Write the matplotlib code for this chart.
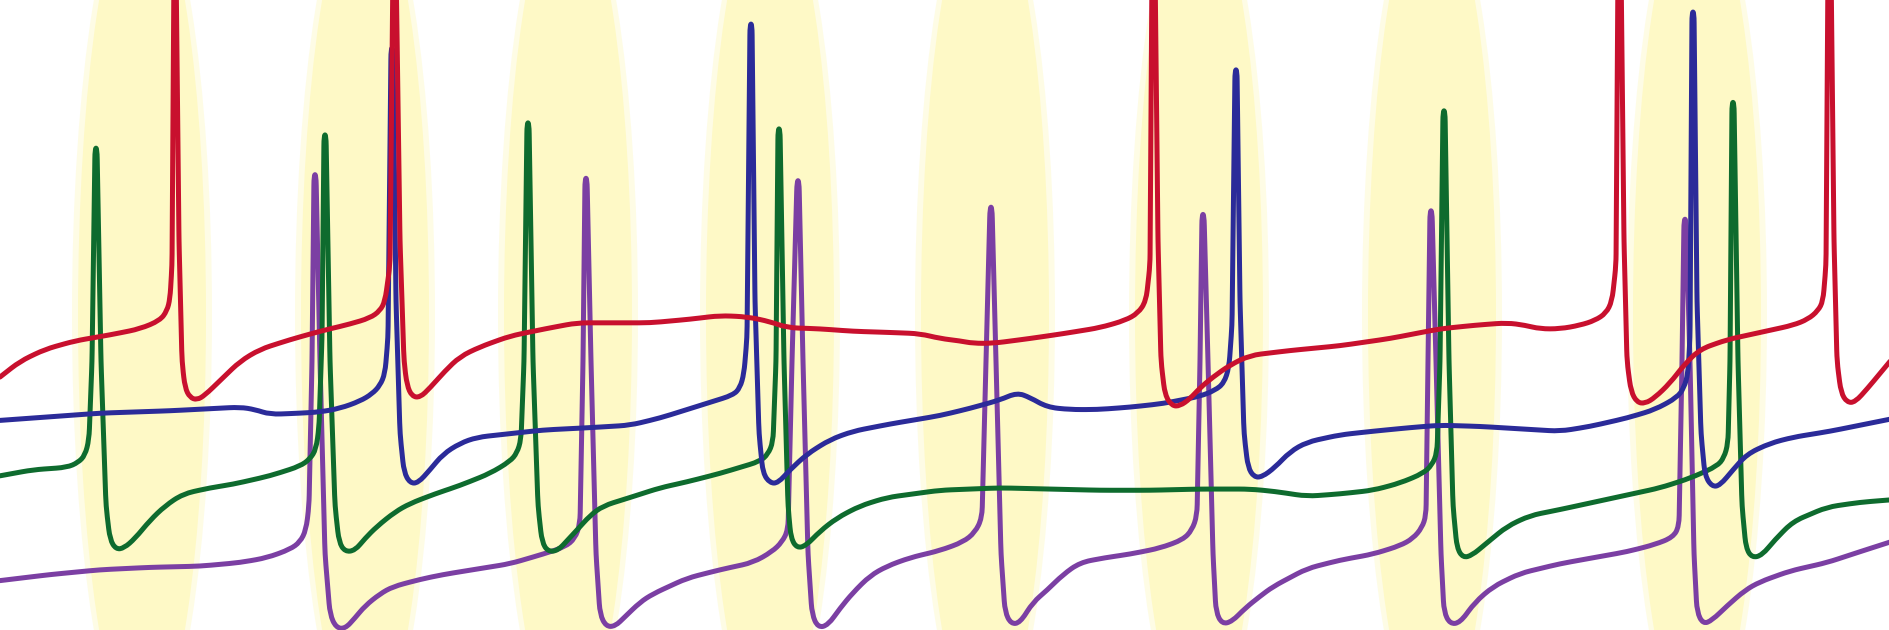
import matplotlib
matplotlib.use("Agg")
import math
import matplotlib.pyplot as plt
from matplotlib.patches import Ellipse, PathPatch
from matplotlib.path import Path

# ---- data (x in px of the 1890-wide canvas, y measured downward, 0..523) ----
band_x = [142, 365, 568, 770, 985, 1199, 1432, 1697]

red_x = [0, 20, 45, 75, 110, 140, 160, 167, 170, 172, 174, 176, 179, 182, 185, 190, 197, 205, 220, 240, 260, 290, 320,
         350, 370, 380, 385, 390, 393, 396, 400, 404, 407, 412, 420, 430, 445, 460, 480, 510, 545, 577, 610, 650, 690,
         720, 747, 770, 787, 820, 853, 890, 920, 940, 960, 973, 993, 1030, 1063, 1100, 1125, 1138, 1146, 1150, 1152,
         1155, 1158, 1161, 1165, 1172, 1180, 1190, 1200, 1213, 1230, 1250, 1290, 1340, 1390, 1440, 1475, 1507, 1525,
         1540, 1560, 1580, 1595, 1606, 1612, 1616, 1618, 1621, 1624, 1627, 1631, 1637, 1645, 1655, 1670, 1685, 1700,
         1727, 1760, 1793, 1808, 1818, 1823, 1826, 1828, 1831, 1834, 1837, 1841, 1847, 1855, 1868, 1880, 1890]
red_y = [313, 300, 290, 283, 278, 273, 266, 258, 248, 220, -30, -30, 200, 300, 322, 330, 332, 328, 316, 300, 290, 282, 275,
         269, 264, 258, 250, 220, -30, -30, 200, 300, 320, 329, 330, 322, 308, 296, 288, 279, 273, 268, 268, 268, 265,
         262, 263, 267, 272, 273, 275, 276, 277, 281, 283, 285, 285, 281, 277, 272, 266, 260, 250, 220, -30,
         -30, 200, 300, 328, 337, 337, 331, 322, 313, 303, 295, 291, 287, 281, 273, 270, 268, 270,
         273, 273, 270, 266, 260, 250, 220, -30, -30, 200, 300, 325, 334, 335, 330, 318, 302, 290,
         282, 276, 270, 265, 258, 250, 220, -30, -30, 200, 300, 326, 334, 334, 322, 310, 300]

blue_x = [0, 50, 100, 170, 240, 255, 270, 300, 320, 340, 360, 372, 380, 385, 388, 391, 393, 396, 400, 404, 410, 418, 430,
          443, 460, 477, 510, 543, 590, 630, 660, 687, 710, 733, 740, 744, 747, 750, 752, 755, 759, 763, 770, 778, 790,
          807, 830, 853, 890, 940, 970, 1000, 1017, 1030, 1047, 1070, 1097, 1130, 1163, 1200, 1215, 1224, 1229, 1232,
          1235, 1237, 1240, 1244, 1248, 1254, 1262, 1275, 1290, 1307, 1340, 1373, 1410, 1440, 1480, 1520, 1560, 1590,
          1627, 1655, 1677, 1684, 1688, 1690, 1692, 1694, 1697, 1701, 1705, 1712, 1720, 1733, 1747, 1770, 1793, 1830,
          1860, 1890]
blue_y = [349, 346, 343, 341, 338, 340, 344, 343, 342, 339, 333, 327, 320, 310, 280, 40, 40, 250, 360, 392, 401, 401, 390,
          377, 368, 363, 360, 357, 355, 353, 347, 340, 334, 328, 322, 310, 280, 20, 20, 250, 360, 393, 401, 401, 390,
          377, 365, 358, 352, 345, 339, 332, 326, 330, 338, 340, 340, 338, 335, 329, 324, 318, 305, 270,
          58, 58, 250, 360, 388, 396, 396, 388, 375, 367, 361, 358, 355, 353, 354, 356, 358, 354,
          347, 340, 330, 322, 310, 280, 10, 10, 250, 360, 395, 404, 403, 390, 377, 368, 363, 358,
          353, 348]

green_x = [0, 33, 67, 78, 85, 89, 92, 95, 97, 101, 106, 110, 116, 124, 135, 150, 165, 183, 210, 233, 270, 300, 310, 316,
           319, 322, 324, 326, 330, 335, 339, 345, 355, 365, 377, 395, 410, 435, 460, 490, 510, 517, 521, 524, 527, 529,
           533, 538, 542, 548, 558, 568, 577, 590, 603, 630, 660, 687, 720, 760, 768, 773, 776, 778, 780, 784, 788, 791,
           797, 806, 820, 837, 860, 887, 940, 1000, 1050, 1100, 1150, 1200, 1250, 1275, 1307, 1340, 1373, 1400, 1423,
           1432, 1437, 1440, 1443, 1445, 1449, 1453, 1457, 1463, 1472, 1485, 1507, 1530, 1560, 1610, 1660, 1690, 1717,
           1724, 1728, 1730, 1732, 1734, 1738, 1742, 1746, 1752, 1762, 1775, 1793, 1827, 1860, 1890]
green_y = [395, 390, 388, 384, 378, 365, 300, 123, 123, 300, 420, 448, 456, 455, 447, 432, 420, 410, 405, 402, 395, 387, 381, 373,
           355, 280, 112, 112, 300, 420, 450, 458, 457, 447, 437, 425, 418, 410, 403, 393, 383, 376, 365, 300, 102, 102,
           300, 420, 450, 458, 457, 448, 440, 428, 420, 413, 405, 400, 393, 383, 377, 367, 300, 107, 107, 300, 420, 447,
           455, 453, 441, 430, 420, 413, 407, 405, 406, 407, 407, 406, 406, 408, 412, 410, 407, 401, 393,
           386, 376, 300, 92, 92, 300, 420, 455, 463, 461, 452, 437, 428, 423, 414, 405, 397, 387,
           380, 368, 300, 85, 85, 300, 420, 455, 463, 461, 448, 433, 421, 417, 415]

purple_x = [0, 50, 100, 150, 200, 240, 267, 290, 300, 306, 309, 312, 314, 316, 320, 325, 330, 336, 345, 355, 365, 380, 393,
            420, 443, 480, 510, 543, 565, 575, 580, 583, 585, 587, 591, 596, 600, 606, 615, 625, 640, 653, 687, 720, 753,
            772, 782, 788, 792, 797, 799, 803, 808, 812, 818, 828, 840, 853, 870, 887, 910, 940, 963, 975, 982, 986, 990,
            992, 996, 1001, 1005, 1011, 1020, 1033, 1047, 1063, 1080, 1105, 1130, 1160, 1183, 1192, 1197, 1200, 1202,
            1204, 1208, 1213, 1216, 1222, 1232, 1245, 1260, 1273, 1307, 1340, 1373, 1400, 1413, 1422, 1426, 1428, 1430,
            1432, 1436, 1441, 1444, 1450, 1460, 1475, 1493, 1520, 1560, 1600, 1627, 1655, 1673, 1679, 1682, 1684, 1686,
            1690, 1694, 1697, 1703, 1712, 1727, 1745, 1760, 1790, 1827, 1860, 1890]
purple_y = [482, 477, 473, 471, 470, 467, 463, 456, 450, 440, 420, 300, 145, 145, 300, 460, 510, 521, 522, 513, 503, 493, 487,
            481, 477, 472, 468, 460, 454, 447, 435, 300, 148, 148, 300, 460, 510, 520, 520, 512, 500, 493, 480, 473, 467,
            458, 450, 440, 300, 150, 150, 300, 460, 510, 521, 519, 505, 492, 478, 470, 463, 457, 450, 442, 430, 300, 172,
            172, 300, 460, 508, 518, 517, 500, 490, 477, 467, 463, 460, 455, 448, 440, 428, 300, 178,
            178, 300, 460, 508, 518, 516, 505, 495, 487, 472, 465, 460, 453, 447, 438, 428, 300, 175,
            175, 300, 460, 508, 518, 517, 500, 487, 476, 468, 462, 458, 452, 446, 437, 300, 182, 182,
            300, 460, 508, 518, 515, 503, 490, 483, 474, 467, 458, 450]


def rounded_path(xs, ys, r=11.0, yscale=1.205):
    """Path through the read points whose corners are rounded with quadratic curves."""
    pts = list(zip(xs, ys))
    verts = [pts[0]]
    codes = [Path.MOVETO]
    for i in range(1, len(pts) - 1):
        (x0, y0), (x1, y1), (x2, y2) = pts[i - 1], pts[i], pts[i + 1]
        d1 = math.hypot(x1 - x0, (y1 - y0) * yscale)
        d2 = math.hypot(x2 - x1, (y2 - y1) * yscale)
        c1 = min(r, 0.5 * d1) / d1
        c2 = min(r, 0.5 * d2) / d2
        a = (x1 + (x0 - x1) * c1, y1 + (y0 - y1) * c1)
        b = (x1 + (x2 - x1) * c2, y1 + (y2 - y1) * c2)
        verts += [a, (x1, y1), b]
        codes += [Path.LINETO, Path.CURVE3, Path.CURVE3]
    verts.append(pts[-1])
    codes.append(Path.LINETO)
    return Path(verts, codes)


# ---- figure ----
fig = plt.figure(figsize=(18.9, 6.3), dpi=100)
ax = fig.add_axes([0, 0, 1, 1])
ax.set_xlim(0, 1890)
ax.set_ylim(523, 0)
ax.axis("off")

band_color = "#FEF9C6"
for cx in band_x:
    ax.add_patch(Ellipse((cx, 261.5), 140, 720, facecolor=band_color, edgecolor="none", alpha=0.45, zorder=0))
    ax.add_patch(Ellipse((cx, 261.5), 128, 704, facecolor=band_color, edgecolor="none", zorder=1))

lw = 3.6
traces = [(purple_x, purple_y, "#7B3FA3"),
          (green_x, green_y, "#0E6B2E"),
          (blue_x, blue_y, "#2B2B99"),
          (red_x, red_y, "#C8102E")]
for xs, ys, col in traces:
    ax.add_patch(PathPatch(rounded_path(xs, ys), facecolor="none", edgecolor=col, lw=lw,
                           joinstyle="round", capstyle="round", zorder=3))

fig.savefig("out.png", dpi=100)
